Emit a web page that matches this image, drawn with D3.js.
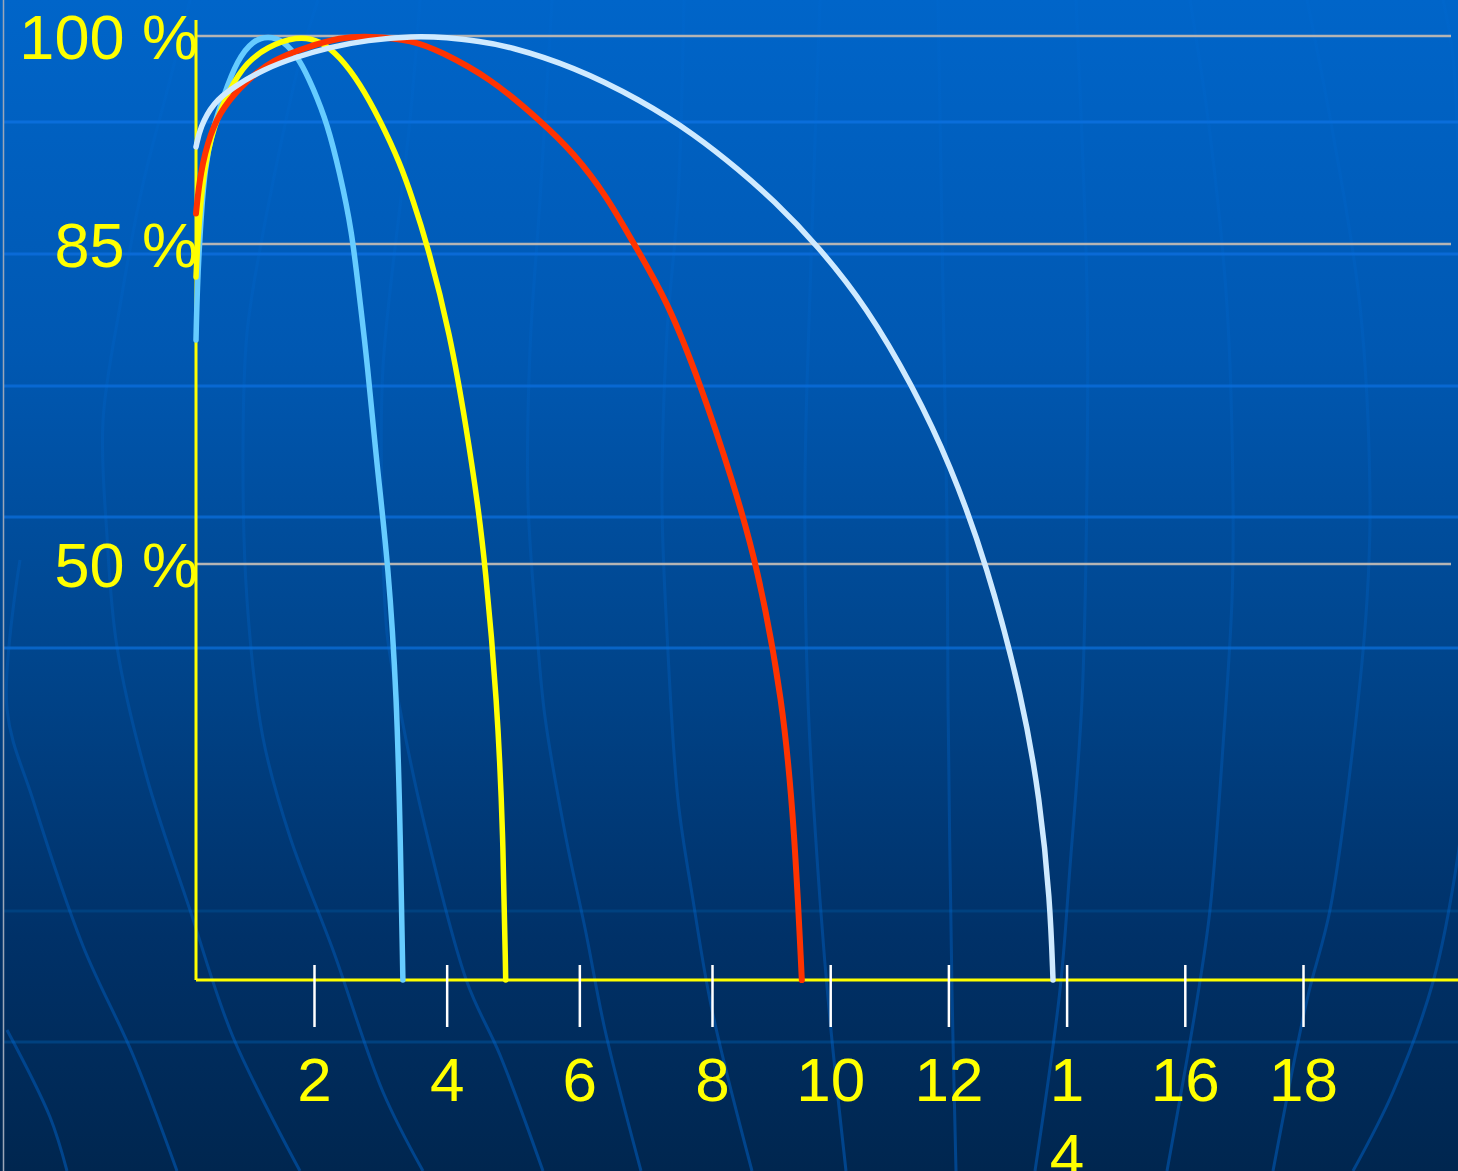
<!DOCTYPE html>
<html>
<head>
<meta charset="utf-8">
<script src="https://cdn.jsdelivr.net/npm/d3@7"></script>
<style>
  html, body { margin: 0; padding: 0; background: #00264f; }
  svg { display: block; }
  text { font-family: "Liberation Sans", Arial, sans-serif; }
</style>
</head>
<body>
<svg id="chart" width="1458" height="1171"></svg>
<script>
// ---------------- data ----------------
const xTicks = [2, 4, 6, 8, 10, 12, 14, 16, 18];
const xTickLabels = ["2", "4", "6", "8", "10", "12", "1\n4", "16", "18"];
const yTicks = [50, 85, 100];
const yTickLabels = ["50 %", "85 %", "100 %"];

const seriesNames = ["A", "B", "C", "D"];

const lightBlueX = [0, 0.02, 0.07, 0.15, 0.29, 0.46, 0.70, 0.97, 1.22, 1.48, 1.76, 1.98, 2.20, 2.39, 2.57, 2.69, 2.80, 2.95, 3.12, 3.25, 3.30, 3.34];
const lightBlueY = [74.5, 80.0, 86.0, 90.6, 93.4, 95.6, 98.3, 99.7, 100, 99.7, 98.3, 96.3, 93.7, 90.1, 86.0, 78.9, 72.3, 60.6, 50.0, 33.7, 17.7, 0];

const yellowX = [0, 0.03, 0.12, 0.29, 0.58, 0.86, 1.20, 1.71, 2.09, 2.39, 2.69, 3.00, 3.30, 3.49, 3.70, 4.05, 4.31, 4.46, 4.58, 4.76, 4.85, 4.89];
const yellowY = [81.4, 85.3, 90.1, 93.4, 96.3, 98.1, 99.2, 100, 99.7, 98.5, 96.6, 93.9, 90.8, 88.2, 85.1, 75.3, 64.3, 57.0, 50.0, 33.7, 17.7, 0];

const redX = [0, 0.07, 0.24, 0.46, 0.86, 1.31, 1.88, 2.39, 2.84, 3.49, 3.90, 4.65, 5.41, 5.91, 6.42, 6.81, 7.32, 7.82, 8.36, 8.76, 9.20, 9.40, 9.52];
const redY = [87.2, 90.1, 93.0, 94.9, 96.8, 98.3, 99.2, 99.9, 100, 99.7, 98.9, 97.0, 93.9, 91.6, 88.4, 85.1, 78.9, 69.8, 58.9, 50.0, 33.7, 17.7, 0];

const whiteX = [0, 0.07, 0.29, 0.63, 1.14, 1.71, 2.24, 2.80, 3.49, 4.01, 4.50, 4.91, 5.91, 6.92, 7.74, 8.47, 9.03, 9.78, 10.62, 11.40, 12.03, 12.65, 13.26, 13.55, 13.72, 13.77];
const whiteY = [92.0, 93.4, 95.2, 96.3, 97.6, 98.5, 99.2, 99.7, 100, 99.9, 99.6, 99.3, 97.8, 95.4, 92.9, 90.3, 88.2, 84.9, 78.1, 69.4, 60.9, 50.0, 33.7, 21.6, 9.6, 0];

const seriesColors = ["#66ccff", "#ffff00", "#ff3300", "#cfeaff"];

// ---------------- decoration (background globe) ----------------
const bgParallelsY = [122, 254, 386, 517, 648, 911, 1042];
const bgParallelColors = ["#0a6edb", "#0a6ad6", "#0868d2", "#0866cc", "#0864c6", "#00417f", "#00417f"];
const bgMeridians = [
  [[190,0],[170,80],[143,184],[120,306],[103,421],[107,536],[117,647],[147,778],[190,910],[233,1037],[300,1171]],
  [[318,0],[300,60],[263,233],[247,333],[243,450],[247,600],[263,738],[290,837],[333,950],[383,1092],[423,1171]],
  [[420,0],[410,120],[383,367],[382,500],[387,633],[400,709],[423,818],[467,982],[500,1055],[543,1171]],
  [[552,0],[540,200],[530,350],[528,500],[537,633],[545,717],[565,833],[586,933],[605,1030],[641,1171]],
  [[684,0],[678,200],[667,333],[662,500],[667,633],[678,800],[693,900],[712,1010],[752,1171]],
  [[820,0],[810,291],[805,483],[808,700],[820,900],[830,1020],[846,1171]],
  [[938,0],[943,291],[947,521],[948,700],[952,990],[956,1171]],
  [[1076,0],[1087,291],[1087,483],[1082,700],[1070,867],[1060,990],[1035,1171]],
  [[1190,0],[1210,134],[1227,306],[1233,497],[1232,600],[1223,746],[1210,910],[1197,1000],[1167,1171]],
  [[1307,0],[1333,134],[1360,306],[1370,497],[1367,600],[1353,746],[1330,910],[1307,1000],[1273,1171]],
  [[1443,0],[1453,57],[1462,300]],
  [[1466,780],[1458,855],[1433,982],[1393,1092],[1353,1171]],
  [[20,560],[7,709],[33,800],[83,946],[133,1055],[177,1171]],
  [[7,1030],[50,1117],[67,1171]]
];

// ---------------- drawing ----------------
const svg = d3.select("#chart");
const W = 1458, H = 1171;

const defs = svg.append("defs");
const grad = defs.append("linearGradient").attr("id", "bg").attr("x1", 0).attr("y1", 0).attr("x2", 0).attr("y2", 1);
grad.append("stop").attr("offset", 0).attr("stop-color", "#0065c9");
grad.append("stop").attr("offset", 0.3).attr("stop-color", "#0058b2");
grad.append("stop").attr("offset", 0.55).attr("stop-color", "#00468e");
grad.append("stop").attr("offset", 0.8).attr("stop-color", "#003168");
grad.append("stop").attr("offset", 1).attr("stop-color", "#00264f");

const mgrad = defs.append("linearGradient").attr("id", "mer")
  .attr("gradientUnits", "userSpaceOnUse").attr("x1", 0).attr("y1", 0).attr("x2", 0).attr("y2", H);
mgrad.append("stop").attr("offset", 0).attr("stop-color", "rgb(0,110,220)").attr("stop-opacity", 0.12);
mgrad.append("stop").attr("offset", 0.45).attr("stop-color", "rgb(0,110,220)").attr("stop-opacity", 0.2);
mgrad.append("stop").attr("offset", 1).attr("stop-color", "rgb(0,105,215)").attr("stop-opacity", 0.45);

svg.append("rect").attr("width", W).attr("height", H).attr("fill", "url(#bg)");

// globe pattern
const deco = svg.append("g");
deco.selectAll("line.par").data(bgParallelsY).join("line")
  .attr("x1", 4).attr("x2", W).attr("y1", d => d).attr("y2", d => d)
  .attr("stroke", (d, i) => bgParallelColors[i]).attr("stroke-width", 3);
const decoLine = d3.line().curve(d3.curveCatmullRom.alpha(0.5));
deco.selectAll("path.mer").data(bgMeridians).join("path")
  .attr("d", decoLine).attr("fill", "none")
  .attr("stroke", "url(#mer)").attr("stroke-width", 3);
svg.append("line").attr("x1", 3.5).attr("x2", 3.5).attr("y1", 0).attr("y2", H)
  .attr("stroke", "#9aa6b8").attr("stroke-width", 1.5);

// scales
const x = d3.scaleLinear().domain([0, 2, 8, 18]).range([196, 314, 712, 1303]);
const y = d3.scaleLinear().domain([0, 50, 85, 100]).range([980, 564, 244, 36]);

// gridlines
svg.append("g").selectAll("line").data(yTicks).join("line")
  .attr("x1", x(0)).attr("x2", 1451)
  .attr("y1", d => y(d)).attr("y2", d => y(d))
  .attr("stroke", "#b4b4b4").attr("stroke-width", 2.5);

// y axis labels
const yAxis = d3.axisLeft(y).tickValues(yTicks).tickSize(0)
  .tickFormat(d => yTickLabels[yTicks.indexOf(d)]);
const gy = svg.append("g").attr("transform", `translate(${x(0) + 2},0)`).call(yAxis);
gy.select(".domain").remove();
gy.selectAll(".tick text")
  .attr("x", 0).attr("dy", null).attr("y", 22)
  .attr("fill", "#ffff00").attr("font-size", 63)
  .attr("font-family", "'Liberation Sans', Arial, sans-serif")
  .attr("text-anchor", "end");

// axes lines
svg.append("line").attr("x1", x(0)).attr("x2", x(0)).attr("y1", 20).attr("y2", y(0))
  .attr("stroke", "#ffff00").attr("stroke-width", 3);
svg.append("line").attr("x1", x(0)).attr("x2", W).attr("y1", y(0)).attr("y2", y(0))
  .attr("stroke", "#ffff00").attr("stroke-width", 3);

// x axis ticks
const xAxis = d3.axisBottom(x).tickValues(xTicks).tickSizeInner(47).tickSizeOuter(0)
  .tickFormat(d => xTickLabels[xTicks.indexOf(d)]);
const gx = svg.append("g").attr("transform", `translate(0,${y(0)})`).call(xAxis);
gx.select(".domain").remove();
gx.selectAll(".tick line").attr("y1", -15).attr("stroke", "#ffffff").attr("stroke-width", 2.5);
gx.selectAll(".tick text").each(function(d, i) {
  const t = d3.select(this);
  const lines = xTickLabels[i].split("\n");
  t.text(null).attr("dy", null).attr("y", 121)
    .attr("fill", "#ffff00").attr("font-size", 62)
    .attr("font-family", "'Liberation Sans', Arial, sans-serif")
    .attr("text-anchor", "middle");
  lines.forEach((ln, k) => {
    t.append("tspan").attr("x", 0).attr("dy", k === 0 ? 0 : 76).text(ln);
  });
});

// curves
const series = [
  { name: seriesNames[0], xs: lightBlueX, ys: lightBlueY, color: seriesColors[0], w: 5.5 },
  { name: seriesNames[1], xs: yellowX, ys: yellowY, color: seriesColors[1], w: 5.5 },
  { name: seriesNames[2], xs: redX, ys: redY, color: seriesColors[2], w: 6 },
  { name: seriesNames[3], xs: whiteX, ys: whiteY, color: seriesColors[3], w: 5.5 }
];
const line = d3.line()
  .x(d => x(d[0])).y(d => y(d[1]))
  .curve(d3.curveBasis);
svg.append("g").selectAll("path").data(series).join("path")
  .attr("d", s => line(s.xs.map((v, i) => [v, s.ys[i]])))
  .attr("fill", "none")
  .attr("stroke", s => s.color)
  .attr("stroke-width", s => s.w)
  .attr("stroke-linecap", "round")
  .attr("stroke-linejoin", "round");
</script>
</body>
</html>
